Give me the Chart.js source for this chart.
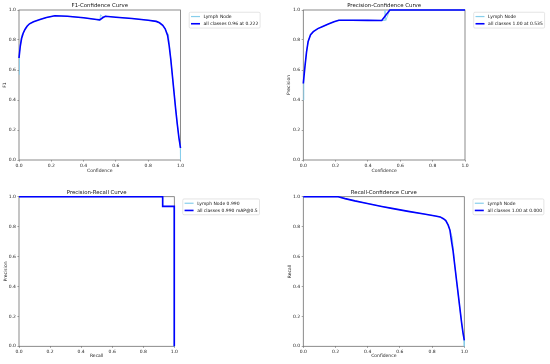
<!DOCTYPE html>
<html>
<head>
<meta charset="utf-8">
<script src="https://cdn.jsdelivr.net/npm/chart.js@4.4.1/dist/chart.umd.min.js"></script>
<style>
html, body { margin: 0; padding: 0; background: #fff; }
#wrap { position: relative; width: 550px; height: 364px; }
canvas { position: absolute; }
</style>
</head>
<body>
<div id="wrap">
<canvas id="f1Chart" width="275" height="182" style="left:0;top:0"></canvas>
<canvas id="pcChart" width="275" height="182" style="left:275px;top:0"></canvas>
<canvas id="prChart" width="275" height="182" style="left:0;top:182px"></canvas>
<canvas id="rcChart" width="275" height="182" style="left:275px;top:182px"></canvas>
</div>
<script>
// shared axis ticks
const tickValues = [0, 0.2, 0.4, 0.6, 0.8, 1.0];

// F1-Confidence
const f1Conf = [0, 0.008, 0.016, 0.026, 0.037, 0.05, 0.065, 0.09, 0.13, 0.17, 0.222, 0.3, 0.4, 0.48, 0.5, 0.52, 0.535, 0.6, 0.7, 0.8, 0.85, 0.87, 0.89, 0.905, 0.92, 0.93, 0.94, 0.95, 0.96, 0.97, 0.98, 0.99, 1.0];
const f1All = [0.68, 0.76, 0.81, 0.845, 0.87, 0.892, 0.908, 0.922, 0.937, 0.95, 0.962, 0.958, 0.948, 0.937, 0.934, 0.95, 0.958, 0.952, 0.943, 0.932, 0.924, 0.915, 0.898, 0.875, 0.83, 0.76, 0.67, 0.56, 0.45, 0.34, 0.24, 0.15, 0.08];
const f1LymphConf = [0, 0.003, 0.016, 0.026, 0.037, 0.05, 0.065, 0.09, 0.13, 0.17, 0.222, 0.3, 0.4, 0.48, 0.5, 0.505, 0.52, 0.535, 0.6, 0.7, 0.8, 0.85, 0.87, 0.89, 0.905, 0.92, 0.925, 0.94, 0.95, 0.96, 0.97, 0.98, 0.99, 0.999, 1.0];
const f1Lymph = [0.57, 0.72, 0.83, 0.85, 0.872, 0.893, 0.909, 0.922, 0.937, 0.95, 0.962, 0.958, 0.948, 0.936, 0.93, 0.968, 0.952, 0.958, 0.952, 0.943, 0.932, 0.924, 0.915, 0.898, 0.876, 0.84, 0.84, 0.67, 0.56, 0.45, 0.34, 0.24, 0.15, 0.08, 0.0];

// Precision-Confidence
const pcConf = [0, 0.01, 0.02, 0.03, 0.045, 0.062, 0.09, 0.12, 0.155, 0.19, 0.22, 0.3, 0.4, 0.485, 0.535, 1.0];
const pcAll = [0.51, 0.62, 0.72, 0.79, 0.835, 0.856, 0.876, 0.89, 0.906, 0.922, 0.932, 0.932, 0.931, 0.93, 1.0, 1.0];
const pcLymphConf = [0, 0.003, 0.01, 0.02, 0.03, 0.045, 0.062, 0.09, 0.12, 0.155, 0.19, 0.22, 0.3, 0.4, 0.485, 0.5, 0.505, 0.51, 0.535, 1.0];
const pcLymph = [0.4, 0.55, 0.63, 0.72, 0.79, 0.835, 0.856, 0.876, 0.89, 0.906, 0.922, 0.932, 0.932, 0.931, 0.93, 0.93, 1.0, 0.93, 1.0, 1.0];

// Precision-Recall
const prRecall = [0, 0.925, 0.925, 1.0, 1.0];
const prAll = [1.0, 1.0, 0.935, 0.935, 0.0];
const prLymph = [1.0, 1.0, 0.935, 0.935, 0.0];

// Recall-Confidence
const rcConf = [0, 0.217, 0.26, 0.32, 0.383, 0.487, 0.55, 0.652, 0.75, 0.82, 0.85, 0.87, 0.885, 0.9, 0.911, 0.921, 0.93, 0.942, 0.953, 0.963, 0.973, 0.983, 0.992, 1.0];
const rcAll = [1.0, 1.0, 0.987, 0.972, 0.958, 0.935, 0.922, 0.902, 0.884, 0.871, 0.865, 0.853, 0.84, 0.81, 0.775, 0.70, 0.64, 0.53, 0.43, 0.34, 0.25, 0.16, 0.09, 0.04];
const rcLymphConf = [0, 0.217, 0.26, 0.32, 0.383, 0.487, 0.55, 0.652, 0.75, 0.82, 0.85, 0.87, 0.885, 0.9, 0.911, 0.921, 0.925, 0.942, 0.953, 0.963, 0.973, 0.983, 0.992, 0.999, 1.0];
const rcLymph = [1.0, 1.0, 0.987, 0.972, 0.958, 0.935, 0.922, 0.902, 0.884, 0.871, 0.865, 0.853, 0.84, 0.81, 0.78, 0.74, 0.73, 0.53, 0.43, 0.34, 0.25, 0.16, 0.09, 0.04, 0.0];

const FONT = '"DejaVu Sans", sans-serif';
const LIGHT = '#87ceeb';
const BLUE = '#0000ff';

function toPoints(xs, ys) {
    return xs.map((x, i) => ({ x: x, y: ys[i] }));
}

// frame, title and legend drawn like matplotlib
const decoPlugin = {
    id: 'deco',
    beforeDatasetsDraw(chart) {
        const { ctx, chartArea: a } = chart;
        ctx.save();
        ctx.strokeStyle = '#6e6e6e';
        ctx.lineWidth = 0.8;
        ctx.strokeRect(a.left, a.top, a.right - a.left, a.bottom - a.top);
        ctx.restore();
    },
    afterDraw(chart, args, opts) {
        const { ctx, chartArea: a } = chart;
        ctx.save();
        ctx.fillStyle = '#111';
        ctx.font = '5.4px ' + FONT;
        ctx.textAlign = 'center';
        ctx.textBaseline = 'alphabetic';
        ctx.fillText(opts.title, (a.left + a.right) / 2, a.top - 2.7);

        // legend box
        ctx.font = '4.5px ' + FONT;
        const textW = Math.max(...opts.items.map(it => ctx.measureText(it.label).width));
        const bx = a.right + 0.04 * (a.right - a.left) + 2.25;
        const by = a.top + 2.25;
        const bw = 1.8 + 9 + 3.6 + textW + 1.8;
        const bh = 15.8;
        ctx.fillStyle = 'rgba(255,255,255,0.8)';
        ctx.strokeStyle = '#d4d4d4';
        ctx.lineWidth = 0.6;
        ctx.beginPath();
        ctx.roundRect(bx, by, bw, bh, 1.2);
        ctx.fill();
        ctx.stroke();
        ctx.textAlign = 'left';
        ctx.textBaseline = 'middle';
        opts.items.forEach((it, i) => {
            const y = by + 4.3 + i * 7.2;
            ctx.strokeStyle = it.color;
            ctx.lineWidth = it.width;
            ctx.beginPath();
            ctx.moveTo(bx + 1.8, y);
            ctx.lineTo(bx + 10.8, y);
            ctx.stroke();
            ctx.fillStyle = '#111';
            ctx.fillText(it.label, bx + 14.4, y + 0.3);
        });
        ctx.restore();
    }
};

function makeChart(id, cfg) {
    const tickFont = { family: FONT, size: 4.5, lineHeight: 1.2 };
    new Chart(document.getElementById(id), {
        type: 'line',
        data: {
            datasets: [
                {
                    label: cfg.lymphLabel,
                    data: cfg.lymph,
                    borderColor: LIGHT,
                    borderWidth: 0.9,
                    pointRadius: 0,
                    tension: 0,
                    clip: 4,
                    order: 1
                },
                {
                    label: cfg.allLabel,
                    data: cfg.all,
                    borderColor: BLUE,
                    borderWidth: 1.6,
                    pointRadius: 0,
                    tension: 0,
                    clip: 4,
                    order: 0
                }
            ]
        },
        options: {
            responsive: false,
            animation: false,
            events: [],
            layout: {
                padding: { left: 0, top: cfg.top, right: 275 - cfg.right, bottom: 0 }
            },
            plugins: {
                legend: { display: false },
                tooltip: { enabled: false },
                deco: {
                    title: cfg.title,
                    items: [
                        { label: cfg.lymphLabel, color: LIGHT, width: 1.2 },
                        { label: cfg.allLabel, color: BLUE, width: 1.6 }
                    ]
                }
            },
            scales: {
                x: {
                    type: 'linear',
                    min: 0,
                    max: 1,
                    afterBuildTicks: s => { s.ticks = tickValues.map(v => ({ value: v })); },
                    afterFit: s => { s.height = 182 - cfg.bottom; },
                    ticks: {
                        font: tickFont, color: '#222', padding: 1.6, maxRotation: 0, autoSkip: false,
                        callback: v => Number(v).toFixed(1)
                    },
                    grid: { drawOnChartArea: false, tickLength: 1.6, color: '#666', lineWidth: 0.6 },
                    border: { display: false },
                    title: {
                        display: true, text: cfg.xTitle, color: '#222', font: tickFont,
                        padding: { top: 0, bottom: cfg.xPad }
                    }
                },
                y: {
                    type: 'linear',
                    min: 0,
                    max: 1,
                    afterBuildTicks: s => { s.ticks = tickValues.map(v => ({ value: v })); },
                    afterFit: s => { s.width = cfg.left; },
                    ticks: {
                        font: tickFont, color: '#222', padding: 1.6, autoSkip: false,
                        callback: v => Number(v).toFixed(1)
                    },
                    grid: { drawOnChartArea: false, tickLength: 1.6, color: '#666', lineWidth: 0.6 },
                    border: { display: false },
                    title: {
                        display: true, text: cfg.yTitle, color: '#222', font: tickFont,
                        padding: { top: cfg.yPad, bottom: 0 }
                    }
                }
            }
        },
        plugins: [decoPlugin]
    });
}

makeChart('f1Chart', {
    title: 'F1-Confidence Curve', xTitle: 'Confidence', yTitle: 'F1',
    lymphLabel: 'Lymph Node', allLabel: 'all classes 0.96 at 0.222',
    lymph: toPoints(f1LymphConf, f1Lymph), all: toPoints(f1Conf, f1All),
    left: 19, top: 10, right: 180.5, bottom: 160, xPad: 8.3, yPad: 2.3
});

makeChart('pcChart', {
    title: 'Precision-Confidence Curve', xTitle: 'Confidence', yTitle: 'Precision',
    lymphLabel: 'Lymph Node', allLabel: 'all classes 1.00 at 0.535',
    lymph: toPoints(pcLymphConf, pcLymph), all: toPoints(pcConf, pcAll),
    left: 28.3, top: 10, right: 190, bottom: 160, xPad: 8.3, yPad: 11.3
});

makeChart('prChart', {
    title: 'Precision-Recall Curve', xTitle: 'Recall', yTitle: 'Precision',
    lymphLabel: 'Lymph Node 0.990', allLabel: 'all classes 0.990 mAP@0.5',
    lymph: toPoints(prRecall, prLymph), all: toPoints(prRecall, prAll),
    left: 19, top: 14.7, right: 174.3, bottom: 164.3, xPad: 5, yPad: 2.8
});

makeChart('rcChart', {
    title: 'Recall-Confidence Curve', xTitle: 'Confidence', yTitle: 'Recall',
    lymphLabel: 'Lymph Node', allLabel: 'all classes 1.00 at 0.000',
    lymph: toPoints(rcLymphConf, rcLymph), all: toPoints(rcConf, rcAll),
    left: 28.3, top: 14.7, right: 189.3, bottom: 164.3, xPad: 5, yPad: 12.3
});
</script>
</body>
</html>
